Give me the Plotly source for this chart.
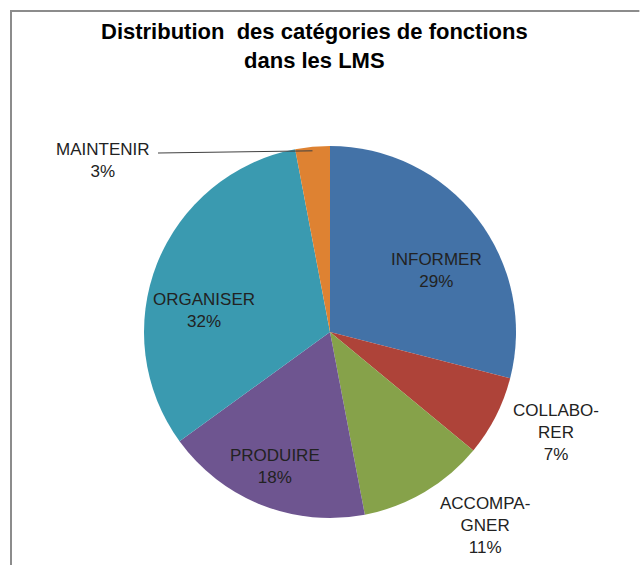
import math
import plotly.graph_objects as go

W, H = 640, 565

categories = ["INFORMER", "COLLABORER", "ACCOMPAGNER", "PRODUIRE", "ORGANISER", "MAINTENIR"]
label_lines = ["INFORMER", "COLLABO-<br>RER", "ACCOMPA-<br>GNER", "PRODUIRE", "ORGANISER", "MAINTENIR"]
values = [29, 7, 11, 18, 32, 3]
colors = ["#4372A7", "#AE4339", "#86A24A", "#6E5590", "#3A9AB0", "#DE8232"]

# layout geometry (pixels)
CX, CY, R = 330, 332, 186
label_pos = [(436, 270), (556, 432), (485, 525), (275, 466), (204, 310), (103, 160)]


def px(x, y):
    return x / W, 1 - y / H


fig = go.Figure()
fig.add_trace(go.Pie(
    labels=categories,
    values=values,
    sort=False,
    direction="clockwise",
    rotation=0,
    marker=dict(colors=colors, line=dict(width=0)),
    textinfo="none",
    hoverinfo="label+percent",
    showlegend=False,
    domain=dict(x=[(CX - R) / W, (CX + R) / W], y=[1 - (CY + R) / H, 1 - (CY - R) / H]),
))

total = sum(values)
annotations = []
for name, v, (lx, ly) in zip(label_lines, values, label_pos):
    x, y = px(lx, ly)
    annotations.append(dict(
        x=x, y=y, xref="paper", yref="paper", xanchor="center", yanchor="middle",
        text=f"{name}<br>{round(100 * v / total)}%",
        showarrow=False, align="center",
        font=dict(family="Liberation Sans, Arial, sans-serif", size=17, color="#222222"),
    ))

# leader line for the small MAINTENIR slice
cum = sum(values[:5]) + values[5] / 2
ang = 2 * math.pi * cum / total
ex, ey = CX + R * math.sin(ang), CY - R * math.cos(ang) + 4
shapes = [
    dict(type="line", xref="paper", yref="paper",
         x0=158 / W, y0=1 - 153 / H, x1=ex / W, y1=1 - ey / H,
         line=dict(color="#404040", width=1)),
    dict(type="line", xref="paper", yref="paper",
         x0=11 / W, y0=0, x1=11 / W, y1=1 - 10 / H,
         line=dict(color="#8c8c8c", width=2)),
    dict(type="line", xref="paper", yref="paper",
         x0=10 / W, y0=1 - 11 / H, x1=0.999, y1=1 - 11 / H,
         line=dict(color="#8c8c8c", width=2), layer="above"),
]

annotations.append(dict(
    x=314 / W, y=1 - 46 / H, xref="paper", yref="paper",
    xanchor="center", yanchor="middle",
    text="<b>Distribution  des catégories de fonctions<br>dans les LMS</b>",
    showarrow=False, align="center",
    font=dict(family="Liberation Sans, Arial, sans-serif", size=22, color="#000000"),
))

fig.update_layout(
    width=W, height=H,
    margin=dict(l=0, r=0, t=0, b=0),
    paper_bgcolor="white", plot_bgcolor="white",
    annotations=annotations, shapes=shapes,
)

fig.write_html("out.html", config={"displayModeBar": False},
               post_script="document.body.style.margin='0';document.body.style.overflow='hidden';")
